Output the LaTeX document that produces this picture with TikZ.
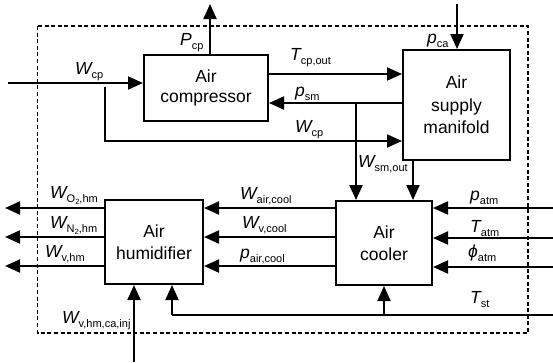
\documentclass[tikz,border=0pt]{standalone}
\usepackage{fontspec}
\setmainfont{Liberation Sans}
\usetikzlibrary{arrows.meta}
\newcommand\lbl[2]{{\fontsize{17.5}{17.5}\selectfont\itshape #1}{\fontsize{11}{11}\selectfont\raisebox{-4pt}{#2}}}
\newcommand\subtwo{\raisebox{-2pt}{\fontsize{7.5}{7.5}\selectfont 2}}
\begin{document}
\begin{tikzpicture}[x=1pt,y=-1pt,
  blk/.style={draw,line width=2pt,inner sep=0pt,align=center,font=\fontsize{17.5}{21.5}\selectfont},
  arr/.style={line width=2pt,-{Triangle[length=15pt,width=13pt]}},
  ln/.style={line width=2pt},
  lab/.style={inner sep=0pt,anchor=base west},
  bound/.style={line width=1.4pt,dash pattern=on 4pt off 2.6pt}]
\useasboundingbox (0,0) rectangle (553,362);
\fill[white] (0,0) rectangle (553,362);
\draw[bound] (37.5,26) rectangle (528,333);

\node[blk,minimum width=124pt,minimum height=66pt,font=\fontsize{17.5}{19.5}\selectfont] (comp) at (206,88) {Air\\compressor};
\node[blk,minimum width=107pt,minimum height=110pt,font=\fontsize{17.5}{22.5}\selectfont] (man) at (456.5,105) {Air\\supply\\manifold};
\node[blk,minimum width=98pt,minimum height=84pt] (hum) at (154,242) {Air\\humidifier};
\node[blk,minimum width=96pt,minimum height=84pt] (cool) at (384,243) {Air\\cooler};

\coordinate (wcpin) at (8,83);
\coordinate (pcpout) at (210,4);
\coordinate (fbtop) at (105,87);
\coordinate (fbbot) at (105,141);
\coordinate (yT) at (0,74);
\coordinate (yP) at (0,103);
\coordinate (jx) at (356,0);
\coordinate (wsx) at (413,0);
\coordinate (pca) at (457,4);
\coordinate (y1) at (0,208);
\coordinate (y2) at (0,237);
\coordinate (y3) at (0,266);
\coordinate (o1) at (5,208);
\coordinate (o2) at (5,237);
\coordinate (o3) at (5,266);
\coordinate (i1) at (553,208);
\coordinate (i2) at (553,238);
\coordinate (i3) at (553,267);
\coordinate (tst) at (553,315);
\coordinate (tsth) at (172,315);
\coordinate (tstc) at (384,315);
\coordinate (inj) at (134,362);

\draw[arr] (wcpin) -- (wcpin -| comp.west);
\draw[arr] (pcpout |- comp.north) -- (pcpout);
\draw[arr] (fbtop) -- (fbbot) -- (fbbot -| man.west);
\draw[arr] (comp.east |- yT) -- (man.west |- yT);
\draw[arr] (man.west |- yP) -- (comp.east |- yP);
\draw[arr] (jx |- yP) -- (jx |- cool.north);
\draw[arr] (wsx |- man.south) -- (wsx |- cool.north);
\draw[arr] (pca) -- (pca |- man.north);
\foreach \k in {1,2,3}{
  \draw[arr] (cool.west |- y\k) -- (hum.east |- y\k);
  \draw[arr] (hum.west |- y\k) -- (o\k);
  \draw[arr] (i\k) -- (i\k -| cool.east);
}
\draw[ln] (tst) -- (tsth);
\draw[arr] (tsth) -- (tsth |- hum.south);
\draw[arr] (tstc) -- (tstc |- cool.south);
\draw[arr] (inj) -- (inj |- hum.south);

\node[lab] (lwcp) at (75,74) {\lbl{W}{cp}};
\node[lab] (lpcp) at (180,45) {\lbl{P}{cp}};
\node[lab] (ltcp) at (290,60) {\lbl{T}{cp,out}};
\node[lab] (lpsm) at (295,96) {\lbl{p}{sm}};
\node[lab] (lwcp2) at (295,132) {\lbl{W}{cp}};
\node[lab] (lwsm) at (358,167) {\lbl{W}{sm,out}};
\node[lab] (lpca) at (427,43) {\lbl{p}{ca}};
\node[lab] (lwo) at (50,198) {\lbl{W}{O\subtwo,hm}};
\node[lab] (lwn) at (50,228) {\lbl{W}{N\subtwo,hm}};
\node[lab] (lwv) at (45,257) {\lbl{W}{v,hm}};
\node[lab] (lwac) at (240,199) {\lbl{W}{air,cool}};
\node[lab] (lwvc) at (242,228) {\lbl{W}{v,cool}};
\node[lab] (lpac) at (240,258) {\lbl{p}{air,cool}};
\node[lab] (lpatm) at (470,200) {\lbl{p}{atm}};
\node[lab] (ltatm) at (470,232) {\lbl{T}{atm}};
\node[lab] (lphi) at (468,257) {\lbl{\symbol{"03D5}}{atm}};
\node[lab] (ltst) at (470,303) {\lbl{T}{st}};
\node[lab] (linj) at (62,323) {\lbl{W}{v,hm,ca,inj}};
\end{tikzpicture}
\end{document}
